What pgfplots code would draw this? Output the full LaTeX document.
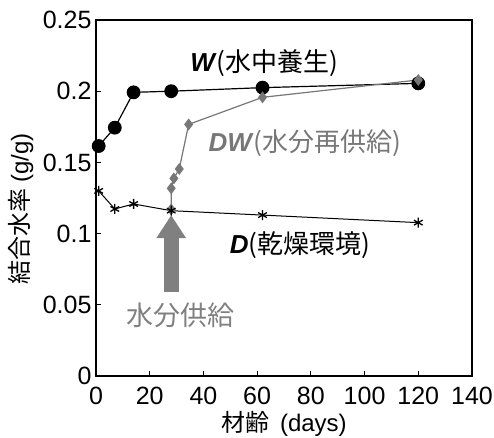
\documentclass[border=0pt]{standalone}
\usepackage{fontspec}
\setmainfont{Liberation Sans}
\newfontfamily\jp{Noto Sans CJK JP}
\usepackage{pgfplots}
\pgfplotsset{compat=1.18}
\usetikzlibrary{arrows.meta}
\definecolor{dwgray}{HTML}{777777}
\definecolor{arrgray}{HTML}{808080}
\begin{document}
\begin{tikzpicture}
\begin{axis}[
  scale only axis,
  width=376pt, height=356pt,
  xmin=0, xmax=140, ymin=0, ymax=0.25,
  xtick={0,20,...,140},
  ytick={0,0.05,0.1,0.15,0.2,0.25},
  yticklabels={0,0.05,0.1,0.15,0.2,0.25},
  /pgf/number format/assume math mode=true,
  tick label style={font=\fontsize{25}{25}\selectfont},
  xticklabel style={anchor=center, at={(axis description cs:0,0)}, yshift=-20pt},
  yticklabel style={xshift=-1pt},
  axis line style={line width=1.8pt},
  tick style={line width=0.8pt, black},
  tick align=inside,
  major tick length=5pt,
  xtick pos=bottom, ytick pos=left,
  xlabel={\jp 材齢\ \ \rmfamily(days)},
  ylabel={\jp 結合水率 \rmfamily(g/g)},
  label style={font=\fontsize{24}{24}\selectfont},
  xlabel style={at={(axis description cs:0.5,-0.135)}, anchor=center},
  ylabel style={at={(axis description cs:-0.200,0.47)}, anchor=center},
  clip=false,
]
% W
\addplot[black, line width=1.2pt, mark=*, mark size=6.3pt] coordinates {
(1,0.1615) (7,0.1744) (14,0.1992) (28,0.2000) (62,0.2025) (120,0.2055)};
% DW
\addplot[dwgray, line width=1.2pt, mark=diamond*, mark size=5pt] coordinates {
(28,0.117) (28,0.1318) (29,0.1388) (31,0.1454) (34.5,0.1767) (62,0.1957) (120,0.2079)};
% D
\addplot[black, line width=1.0pt, mark=asterisk, mark size=5pt, mark options={line width=1.3pt}] coordinates {
(1,0.130) (7,0.1173) (14,0.1208) (28,0.1161) (62,0.1130) (120,0.1077)};
% annotations
\node[font=\fontsize{26}{26}\selectfont] at (axis cs:62.7,0.2198) {\textbf{\textit{W}}{\jp (水中養生)}};
\node[font=\fontsize{26}{26}\selectfont, text=dwgray] at (axis cs:77.8,0.1636) {\textbf{\textit{DW}}{\jp (水分再供給)}};
\node[font=\fontsize{26}{26}\selectfont] at (axis cs:76,0.092) {\textbf{\textit{D}}{\jp (乾燥環境)}};
\draw[arrgray, line width=15pt, -{Triangle[width=28pt,length=23pt]}] (axis cs:28,0.059) -- (axis cs:28,0.113);
\node[font=\fontsize{27}{27}\selectfont, text=arrgray] at (axis cs:31.3,0.0428) {\jp 水分供給};
\end{axis}
\pgfresetboundingbox
\path (-96pt,-61pt) rectangle (398pt,376pt);
\end{tikzpicture}
\end{document}
